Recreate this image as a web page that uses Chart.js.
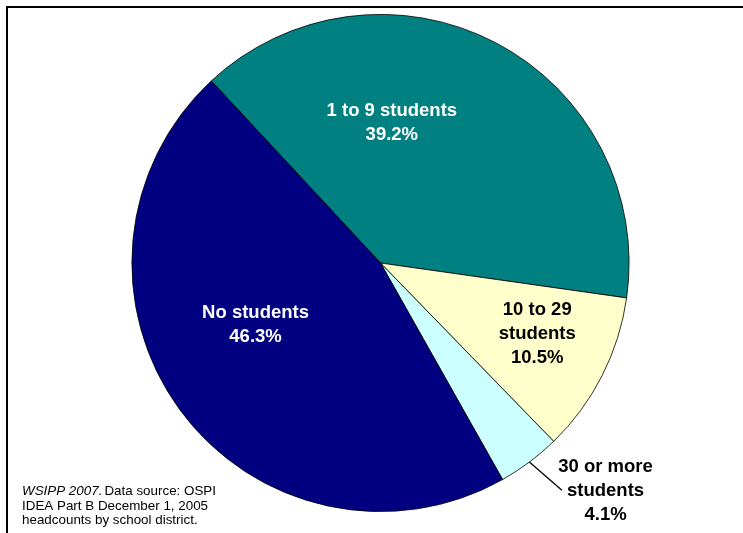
<!DOCTYPE html>
<html>
<head>
<meta charset="utf-8">
<script src="https://cdn.jsdelivr.net/npm/chart.js@4/dist/chart.umd.min.js"></script>
<style>
  html, body { margin: 0; padding: 0; background: #fff; }
  #wrap { position: relative; width: 743px; height: 533px; }
</style>
</head>
<body>
<div id="wrap"><canvas id="myChart" width="743" height="533"></canvas></div>
<script>
// Data for the chart
const categories = ["1 to 9 students", "10 to 29 students", "30 or more students", "No students"];
const labelLines = [["1 to 9 students"], ["10 to 29", "students"], ["30 or more", "students"], ["No students"]];
const shares = [39.2, 10.5, 4.1, 46.3];
const sliceColors = ["#008080", "#FFFFCC", "#CCFFFF", "#000080"];
const textColors = ["#ffffff", "#000000", "#000000", "#ffffff"];

// label placement relative to each slice: angle nudge (deg) and radius fraction
const labelPlace = [
  {da: -23, r: 0.57},
  {da: -3, r: 0.69},
  {da: -8, r: 1.285, leader: true},
  {da: 10, r: 0.56},
];

const FONT = "'Liberation Sans', Arial, sans-serif";

const labelsPlugin = {
  id: "sliceLabels",
  beforeDraw(chart) {
    const ctx = chart.ctx;
    ctx.save();
    ctx.fillStyle = "#fff";
    ctx.fillRect(0, 0, chart.width, chart.height);
    // frame
    ctx.strokeStyle = "#000";
    ctx.lineWidth = 2;
    ctx.beginPath();
    ctx.moveTo(7, chart.height);
    ctx.lineTo(7, 7);
    ctx.lineTo(chart.width, 7);
    ctx.stroke();
    ctx.restore();
  },
  afterDraw(chart) {
    const ctx = chart.ctx;
    const arcs = chart.getDatasetMeta(0).data;
    ctx.save();
    arcs.forEach((arc, i) => {
      const p = arc.getProps(["x", "y", "startAngle", "endAngle", "outerRadius"], true);
      const mid = (p.startAngle + p.endAngle) / 2;
      const pl = labelPlace[i];
      const a = mid + pl.da * Math.PI / 180;
      const cx = p.x + Math.cos(a) * p.outerRadius * pl.r;
      const cy = p.y + Math.sin(a) * p.outerRadius * pl.r;
      const lines = labelLines[i].concat([shares[i].toFixed(1) + "%"]);
      const lh = 24;
      ctx.font = "bold 18.5px " + FONT;
      ctx.fillStyle = textColors[i];
      ctx.textAlign = "center";
      ctx.textBaseline = "middle";
      lines.forEach((t, k) => {
        ctx.fillText(t, cx, cy + 1 + (k - (lines.length - 1) / 2) * lh);
      });
      if (pl.leader) {
        const r0 = p.outerRadius;
        const a1 = mid - 1.8 * Math.PI / 180;
        const r1 = p.outerRadius * 1.17;
        ctx.strokeStyle = "#000";
        ctx.lineWidth = 1.3;
        ctx.beginPath();
        ctx.moveTo(p.x + Math.cos(mid) * r0, p.y + Math.sin(mid) * r0);
        ctx.lineTo(p.x + Math.cos(a1) * r1, p.y + Math.sin(a1) * r1);
        ctx.stroke();
      }
    });
    // footnote
    ctx.fillStyle = "#000";
    ctx.textAlign = "left";
    ctx.textBaseline = "middle";
    ctx.font = "italic 13.4px " + FONT;
    const lead = "WSIPP 2007.";
    ctx.fillText(lead, 22, 491);
    const w = ctx.measureText(lead).width;
    ctx.font = "13.4px " + FONT;
    ctx.fillText("Data source: OSPI", 22 + w + 2, 491);
    ctx.fillText("IDEA Part B December 1, 2005", 22, 506);
    ctx.fillText("headcounts by school district.", 22, 520);
    ctx.restore();
  }
};

const data = {
  labels: categories,
  datasets: [
    {
      data: shares,
      backgroundColor: sliceColors,
      borderColor: "#000000",
      borderWidth: 0.8,
    },
  ],
};

const config = {
  type: "pie",
  data: data,
  options: {
    responsive: false,
    animation: false,
    rotation: -42.9,
    layout: { padding: { top: 14, bottom: 21, left: 18, right: 0 } },
    plugins: {
      legend: { display: false },
      tooltip: { enabled: false },
    },
  },
  plugins: [labelsPlugin],
};

// Render the chart
window.onload = function () {
  const ctx = document.getElementById("myChart");
  new Chart(ctx, config);
};
</script>
</body>
</html>
